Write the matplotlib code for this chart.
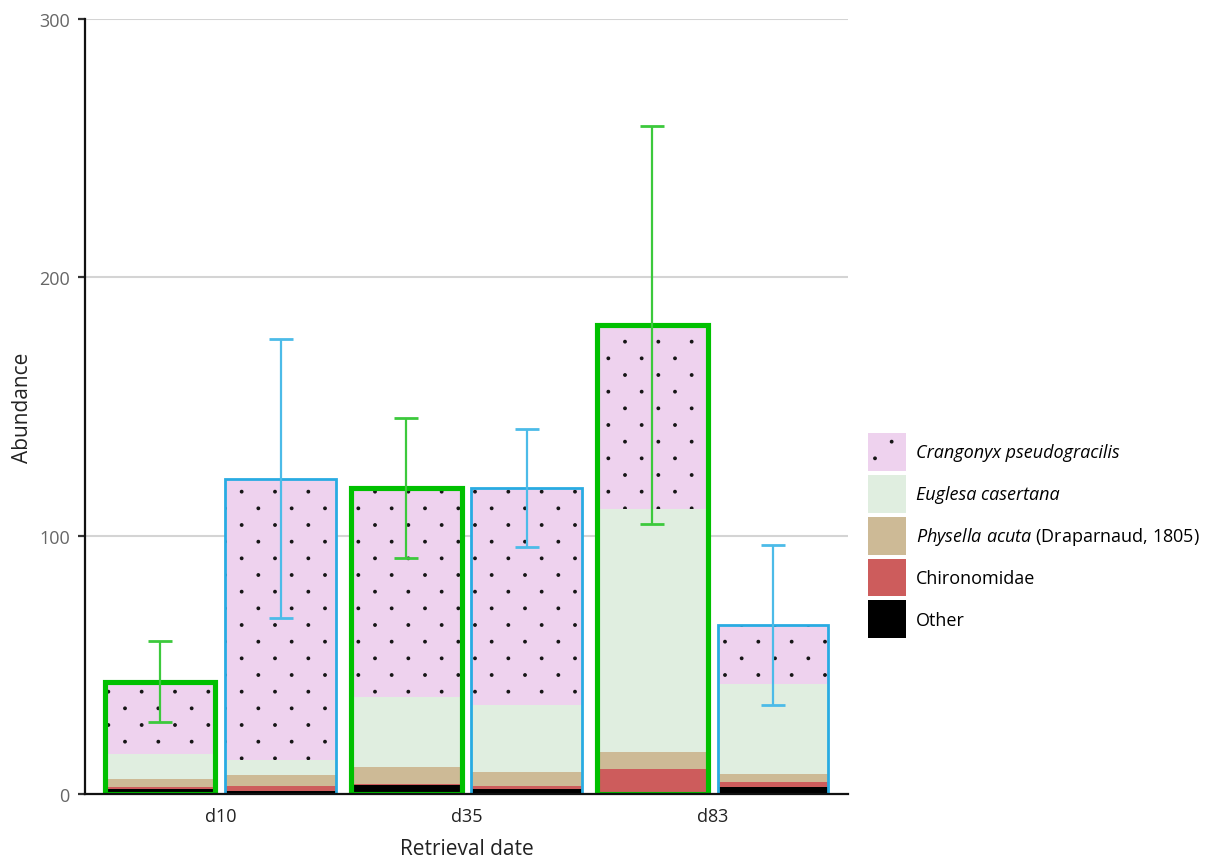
import numpy as np
import matplotlib
matplotlib.use("Agg")
import matplotlib.pyplot as plt
import matplotlib.patches as mpatches
import matplotlib.hatch as mhatch
from matplotlib.path import Path

plt.rcParams['font.family'] = ['Open Sans', 'DejaVu Sans']
plt.rcParams['mathtext.fontset'] = 'custom'
plt.rcParams['mathtext.rm'] = 'Open Sans'
plt.rcParams['mathtext.it'] = 'Open Sans:italic'
plt.rcParams['hatch.linewidth'] = 1.0
plt.rcParams['hatch.color'] = '#151515'


class SparseDots(mhatch.HatchPatternBase):
    """'.' hatch with staggered rows and wide spacing inside a row."""
    filled = True

    def __init__(self, hatch, density):
        n = hatch.count('.')
        self.rows = 6 * n
        self.cols = 3 * n
        circle = Path.unit_circle()
        self.shape_vertices = circle.vertices
        self.shape_codes = circle.codes
        self.num_vertices = self.rows * self.cols * len(self.shape_vertices)

    def set_vertices_and_codes(self, vertices, codes):
        nv = len(self.shape_vertices)
        k = 0
        for i in range(self.rows):
            shift = 0.5 if i % 2 else 0.0
            cy = (i + 0.5) / self.rows
            for j in range(self.cols):
                cx = (j + 0.25 + shift) / self.cols
                vertices[k:k + nv] = self.shape_vertices * 0.012 + [cx, cy]
                codes[k:k + nv] = self.shape_codes
                k += nv


mhatch._hatch_types = [SparseDots if t is mhatch.SmallFilledCircles else t
                       for t in mhatch._hatch_types]

# ---- data -------------------------------------------------------------
dates = ['d10', 'd35', 'd83']
taxa = ['Other', 'Chironomidae', 'Physella acuta', 'Euglesa casertana',
        'Crangonyx pseudogracilis']

# first series (green outline)
a_other = [2.0, 3.5, 0.5]
a_chiro = [0.7, 0.3, 9.0]
a_physella = [3.2, 6.6, 6.6]
a_euglesa = [9.5, 27.3, 94.2]
a_crangonyx = [28.0, 80.8, 71.3]
a_err = [15.7, 27.0, 77.0]

# second series (blue outline)
b_other = [1.2, 2.0, 2.8]
b_chiro = [2.0, 1.0, 2.0]
b_physella = [4.0, 5.4, 2.8]
b_euglesa = [6.0, 26.2, 35.0]
b_crangonyx = [108.8, 83.9, 22.8]
b_err = [54.0, 23.0, 31.0]

fills = ['#000000', '#cd5c5c', '#cdba96', '#e0eee0', '#eed2ee']
hatches = [None, None, None, None, '.']

fig = plt.figure(figsize=(12.17, 8.62), dpi=100)
ax = fig.add_axes([0.0698, 0.0777, 0.627, 0.899])

x = np.arange(len(dates))
w = 0.45
off = 0.245
series = [
    (x - off, [a_other, a_chiro, a_physella, a_euglesa, a_crangonyx], a_err,
     '#00c000', 3.7, '#3cc93c'),
    (x + off, [b_other, b_chiro, b_physella, b_euglesa, b_crangonyx], b_err,
     '#29abe2', 2.0, '#4cbbe8'),
]

for pos, stack, err, edge, lw, ecol in series:
    bottom = np.zeros(len(dates))
    for vals, fc, h in zip(stack, fills, hatches):
        ax.bar(pos, vals, w, bottom=bottom, color=fc, edgecolor='#151515',
               linewidth=0, hatch=h, zorder=2)
        bottom += np.array(vals)
    ax.bar(pos, bottom, w, fill=False, edgecolor=edge, linewidth=lw, zorder=3)
    ax.errorbar(pos, bottom, yerr=err, fmt='none', ecolor=ecol,
                elinewidth=1.6, capsize=8.5, capthick=2.0, zorder=4)

ax.set_xlim(-0.55, 2.55)
ax.set_ylim(0, 300)
ax.set_yticks([0, 100, 200, 300])
ax.set_xticks(x)
ax.set_xticklabels(dates)
ax.yaxis.grid(True, color='#d4d4d4', linewidth=1.5, zorder=0)
ax.set_axisbelow(True)
for s in ['top', 'right']:
    ax.spines[s].set_visible(False)
for s in ['left', 'bottom']:
    ax.spines[s].set_linewidth(1.6)
    ax.spines[s].set_color('#111111')
    ax.spines[s].set_zorder(5)
ax.tick_params(axis='y', length=5, width=1.6, color='#333333',
               labelcolor='#666666', labelsize=13, pad=6)
ax.tick_params(axis='x', length=0, labelcolor='#222222', labelsize=13, pad=9)
ax.set_ylabel('Abundance', fontsize=15, color='#222222', labelpad=4)
ax.set_xlabel('Retrieval date', fontsize=15, color='#222222', labelpad=10)

# legend, top entry first
labels = ['Crangonyx pseudogracilis', 'Euglesa casertana',
          r'$\mathit{Physella\ acuta}$ (Draparnaud, 1805)', 'Chironomidae',
          'Other']
handles = [mpatches.Patch(facecolor=fc, edgecolor='#151515', linewidth=0,
                          hatch=h)
           for fc, h in zip(fills[::-1], hatches[::-1])]
leg = fig.legend(handles, labels, loc='upper left',
                 bbox_to_anchor=(868 / 1217, 1 - 434 / 862),
                 frameon=False, fontsize=13, handlelength=2.1,
                 handleheight=2.85, labelspacing=0.22, handletextpad=0.55,
                 borderpad=0, borderaxespad=0)
for t in leg.get_texts()[:2]:
    t.set_style('italic')

fig.savefig('out.png', dpi=100)
